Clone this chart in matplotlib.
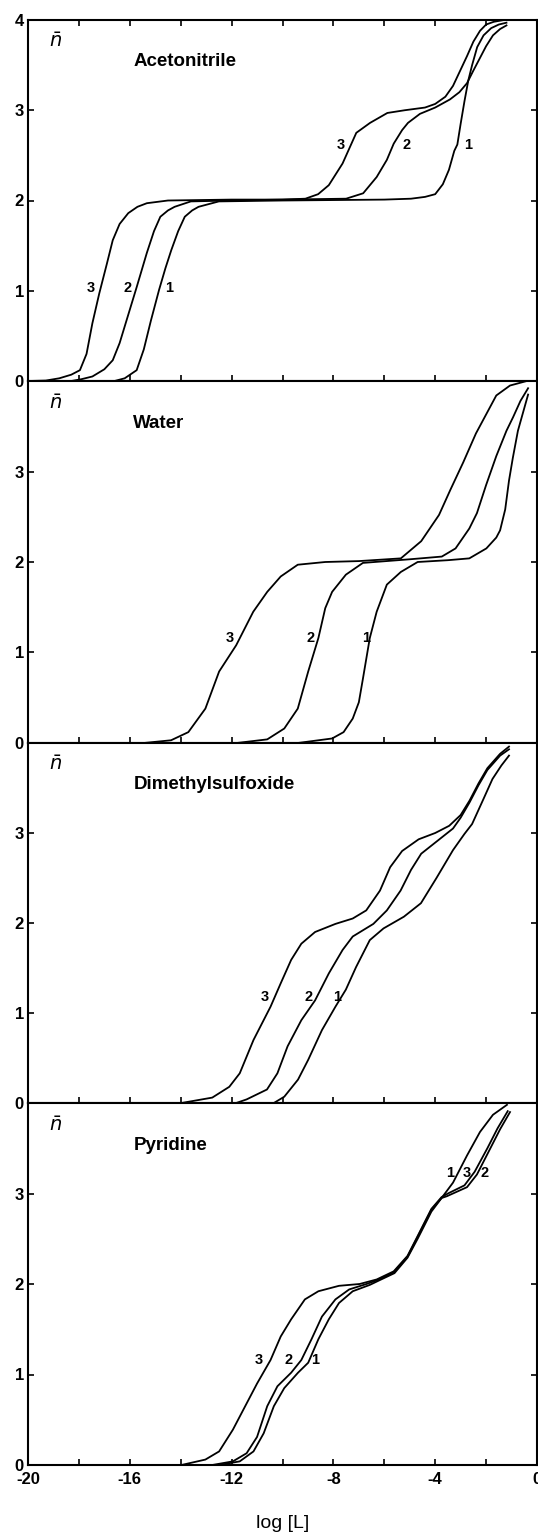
import numpy as np
import matplotlib as mpl
mpl.use('Agg')
from matplotlib import pyplot as plt
from matplotlib.ticker import MultipleLocator

plt.rcParams['font.family'] = ['Liberation Sans', 'DejaVu Sans']

#------------------- Data --------------------------------------------
solvents = ['Acetonitrile', 'Water', 'Dimethylsulfoxide', 'Pyridine']

# Acetonitrile
ac1_x = [-20, -16.6, -16.2, -15.73, -15.45, -15.17, -14.85, -14.6, -14.37, -14.1, -13.84, -13.55, -13.3, -12.5, -10,
         -6, -4.95, -4.4, -4.0, -3.7, -3.46, -3.25, -3.13, -3.0, -2.85, -2.7, -2.55, -2.35, -2.1, -1.8, -1.5, -1.2]
ac1_y = [0, 0, 0.03, 0.12, 0.35, 0.67, 1.01, 1.25, 1.45, 1.66, 1.82, 1.89, 1.93, 1.99, 2.0,
         2.01, 2.02, 2.04, 2.07, 2.18, 2.34, 2.55, 2.62, 2.85, 3.1, 3.33, 3.5, 3.7, 3.83, 3.91, 3.95, 3.97]
ac2_x = [-20, -18.3, -17.9, -17.47, -17.0, -16.67, -16.4, -16.13, -15.73, -15.33, -15.05, -14.8, -14.5, -14.24, -13.6, -12, -10,
         -7.5, -6.83, -6.3, -5.9, -5.63, -5.3, -5.07, -4.6, -4.0, -3.42, -3.05, -2.75, -2.5, -2.24, -2.0, -1.73, -1.45, -1.2]
ac2_y = [0, 0, 0.02, 0.05, 0.13, 0.23, 0.42, 0.67, 1.04, 1.42, 1.66, 1.82, 1.89, 1.93, 1.99, 2.0, 2.01,
         2.02, 2.08, 2.26, 2.45, 2.63, 2.78, 2.86, 2.96, 3.03, 3.12, 3.2, 3.3, 3.44, 3.58, 3.71, 3.83, 3.9, 3.94]
ac3_x = [-20, -19.3, -18.77, -18.3, -17.96, -17.7, -17.47, -17.2, -16.9, -16.67, -16.4, -16.06, -15.7, -15.33, -14.5, -12, -10,
         -9.1, -8.6, -8.18, -7.64, -7.1, -6.56, -5.88, -5.2, -4.4, -4.0, -3.6, -3.3, -3.05, -2.75, -2.5, -2.24, -2.0, -1.7, -1.3]
ac3_y = [0, 0.005, 0.03, 0.07, 0.12, 0.3, 0.64, 0.97, 1.3, 1.56, 1.74, 1.86, 1.93, 1.97, 2.0, 2.01, 2.01,
         2.02, 2.07, 2.17, 2.41, 2.75, 2.86, 2.97, 3.0, 3.03, 3.07, 3.15, 3.27, 3.42, 3.6, 3.76, 3.88, 3.95, 3.98, 4.0]

# Water
wa1_x = [-9.4, -8.05, -7.6, -7.24, -7.0, -6.84, -6.57, -6.3, -5.9, -5.35, -4.69, -3.5, -2.66, -1.99, -1.6,
         -1.45, -1.25, -1.1, -0.95, -0.75, -0.55, -0.35]
wa1_y = [0, 0.05, 0.12, 0.27, 0.45, 0.71, 1.16, 1.45, 1.75, 1.89, 2.0, 2.02, 2.04, 2.15, 2.27,
         2.35, 2.58, 2.9, 3.15, 3.45, 3.65, 3.85]
wa2_x = [-11.8, -10.6, -9.93, -9.4, -8.99, -8.59, -8.32, -8.05, -7.51, -6.84, -5.0, -3.74, -3.2, -2.66, -2.36,
         -2.0, -1.6, -1.2, -0.94, -0.65, -0.35]
wa2_y = [0, 0.04, 0.16, 0.38, 0.79, 1.16, 1.49, 1.67, 1.86, 1.99, 2.03, 2.06, 2.15, 2.37, 2.54,
         2.85, 3.17, 3.45, 3.6, 3.78, 3.92]
wa3_x = [-15.45, -14.38, -13.7, -13.03, -12.49, -11.82, -11.15, -10.6, -10.07, -9.4, -8.32, -7.0, -5.35, -4.55,
         -3.85, -3.4, -2.9, -2.4, -2.0, -1.6, -1.06, -0.4]
wa3_y = [0, 0.03, 0.12, 0.38, 0.79, 1.08, 1.45, 1.67, 1.84, 1.97, 2.0, 2.01, 2.04, 2.23,
         2.52, 2.8, 3.1, 3.42, 3.63, 3.84, 3.95, 4.0]

# Dimethylsulfoxide
dm1_x = [-10.34, -9.93, -9.39, -8.99, -8.45, -7.92, -7.51, -7.11, -6.57, -6.03, -5.23, -4.56, -3.95, -3.3,
         -2.85, -2.55, -2.1, -1.75, -1.4, -1.1]
dm1_y = [0, 0.07, 0.26, 0.48, 0.81, 1.07, 1.26, 1.51, 1.81, 1.94, 2.07, 2.22, 2.5, 2.81,
         2.99, 3.1, 3.38, 3.6, 3.75, 3.86]
dm2_x = [-11.82, -11.41, -10.61, -10.2, -9.8, -9.26, -8.72, -8.18, -7.64, -7.24, -6.43, -5.9, -5.36, -4.95, -4.55,
         -3.88, -3.3, -3.0, -2.65, -2.3, -1.95, -1.45, -1.1]
dm2_y = [0, 0.04, 0.15, 0.33, 0.63, 0.92, 1.14, 1.44, 1.7, 1.85, 1.99, 2.14, 2.36, 2.59, 2.77,
         2.92, 3.05, 3.17, 3.34, 3.53, 3.7, 3.86, 3.93]
dm3_x = [-13.97, -12.76, -12.09, -11.68, -11.14, -10.47, -10.07, -9.66, -9.26, -8.72, -7.92, -7.24, -6.71, -6.17,
         -5.77, -5.3, -4.65, -4.0, -3.45, -3.0, -2.65, -2.3, -1.95, -1.45, -1.1]
dm3_y = [0, 0.06, 0.18, 0.33, 0.7, 1.07, 1.33, 1.59, 1.77, 1.9, 1.99, 2.05, 2.14, 2.36,
         2.62, 2.8, 2.93, 3.0, 3.08, 3.2, 3.36, 3.55, 3.72, 3.88, 3.96]

# Pyridine
py1_x = [-12.5, -11.68, -11.14, -10.74, -10.34, -9.93, -9.39, -8.99, -8.59, -8.18, -7.78, -7.24, -6.57, -6.2,
         -5.6, -5.09, -4.69, -4.15, -3.75, -3.3, -2.75, -2.24, -1.73, -1.18]
py1_y = [0, 0.04, 0.15, 0.35, 0.65, 0.85, 1.02, 1.13, 1.39, 1.61, 1.79, 1.92, 1.99, 2.04,
         2.12, 2.29, 2.5, 2.8, 2.95, 3.12, 3.42, 3.68, 3.87, 3.98]
py2_x = [-12.76, -11.95, -11.41, -11.0, -10.6, -10.2, -9.66, -9.26, -8.86, -8.45, -7.92, -7.38, -6.7, -6.3,
         -5.63, -5.09, -4.69, -4.15, -3.75, -3.54, -2.75, -2.36, -1.85, -1.45, -1.06]
py2_y = [0, 0.04, 0.13, 0.31, 0.65, 0.87, 1.02, 1.16, 1.39, 1.64, 1.83, 1.94, 2.0, 2.04,
         2.13, 2.3, 2.52, 2.82, 2.95, 2.97, 3.07, 3.21, 3.49, 3.71, 3.9]
py3_x = [-13.97, -13.03, -12.49, -11.95, -11.41, -11.0, -10.47, -10.07, -9.66, -9.12, -8.59, -7.78, -6.97, -6.3,
         -5.63, -5.09, -4.69, -4.15, -3.75, -3.5, -2.85, -2.45, -1.95, -1.55, -1.15]
py3_y = [0, 0.06, 0.15, 0.39, 0.68, 0.9, 1.16, 1.42, 1.61, 1.83, 1.92, 1.98, 2.0, 2.05,
         2.14, 2.31, 2.53, 2.83, 2.96, 3.0, 3.09, 3.24, 3.5, 3.72, 3.91]

curves = [
    [(ac1_x, ac1_y), (ac2_x, ac2_y), (ac3_x, ac3_y)],
    [(wa1_x, wa1_y), (wa2_x, wa2_y), (wa3_x, wa3_y)],
    [(dm1_x, dm1_y), (dm2_x, dm2_y), (dm3_x, dm3_y)],
    [(py1_x, py1_y), (py2_x, py2_y), (py3_x, py3_y)],
]

# curve number labels: (text, x, y)
curve_labels = [
    [('3', -17.53, 1.03), ('2', -16.08, 1.03), ('1', -14.46, 1.03),
     ('3', -7.7, 2.61), ('2', -5.14, 2.61), ('1', -2.7, 2.61)],
    [('3', -12.07, 1.16), ('2', -8.88, 1.16), ('1', -6.72, 1.16)],
    [('3', -10.68, 1.18), ('2', -8.99, 1.18), ('1', -7.84, 1.18)],
    [('3', -10.92, 1.16), ('2', -9.76, 1.16), ('1', -8.72, 1.16),
     ('1', -3.42, 3.23), ('3', -2.77, 3.23), ('2', -2.07, 3.23)],
]

#--------------------- PLOTs ------------------------
W, H = 538, 1533
fig = plt.figure(figsize=(W / 100, H / 100), dpi=100)
left, right = 28 / W, 537 / W
edges = [20, 381, 743, 1103, 1465]

for k in range(4):
    top_px, low_px = edges[k], edges[k + 1]
    ax = fig.add_axes([left, 1 - low_px / H, right - left, (low_px - top_px) / H])
    for (cx, cy) in curves[k]:
        ax.plot(cx, cy, color='black', linewidth=1.3, solid_joinstyle='round')
    for (t, lx, ly) in curve_labels[k]:
        ax.text(lx, ly, t, fontsize=10.5, fontweight='bold', ha='center', va='center')
    ax.set_xlim(-20, 0)
    ax.set_ylim(0, 4)
    for s in ax.spines.values():
        s.set_linewidth(1.5)
    ax.xaxis.set_major_locator(MultipleLocator(4))
    ax.xaxis.set_minor_locator(MultipleLocator(2))
    ax.tick_params(which='both', direction='in', length=4, width=1.2,
                   right=True, top=(k == 0), labelsize=12)
    ax.tick_params(axis='y', pad=3)
    ax.tick_params(axis='x', pad=5)
    ax.set_yticks([0, 1, 2, 3, 4])
    if k == 0:
        ax.set_yticklabels(['0', '1', '2', '3', '4'], fontweight='bold')
    else:
        ax.set_yticklabels(['0', '1', '2', '3', ''], fontweight='bold')
    if k == 3:
        ax.set_xticks([-20, -16, -12, -8, -4, 0])
        ax.set_xticklabels(['-20', '-16', '-12', '-8', '-4', '0'], fontweight='bold')
        ax.set_xlabel('log [L]', fontsize=14, labelpad=20)
    else:
        ax.tick_params(axis='x', labelbottom=False)
    ax.text(0.055, 1 - 22 / 361, r'$\bar{n}$', transform=ax.transAxes,
            fontsize=14, ha='center', va='center')
    ax.text(0.207, 1 - 42 / 361, solvents[k], transform=ax.transAxes,
            fontsize=13.5, fontweight='bold', ha='left', va='center')

plt.savefig('out.png', dpi=100)
